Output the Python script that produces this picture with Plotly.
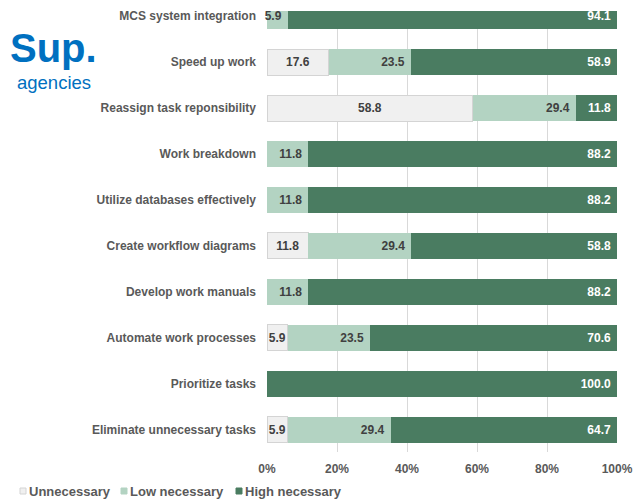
import plotly.graph_objects as go

# Survey items, listed bottom-to-top as they appear on the y axis
categories = [
    "Eliminate unnecessary tasks",
    "Prioritize tasks",
    "Automate work processes",
    "Develop work manuals",
    "Create workflow diagrams",
    "Utilize databases effectively",
    "Work breakdown",
    "Reassign task reponsibility",
    "Speed up work",
    "MCS system integration",
]
unnecessary = [5.9, 0, 5.9, 0, 11.8, 0, 0, 58.8, 17.6, 0]
low_necessary = [29.4, 0, 23.5, 11.8, 29.4, 11.8, 11.8, 29.4, 23.5, 5.9]
high_necessary = [64.7, 100.0, 70.6, 88.2, 58.8, 88.2, 88.2, 11.8, 58.9, 94.1]

series_names = ["Unnecessary", "Low necessary", "High necessary"]
x_tick_values = [0, 20, 40, 60, 80, 100]
x_tick_labels = ["0%", "20%", "40%", "60%", "80%", "100%"]

W, H = 633, 499
M_L, M_R, M_T, M_B = 267, 16, 11, 47
PLOT_W = W - M_L - M_R
PLOT_H = H - M_T - M_B

FONT = "Liberation Sans, Arial, sans-serif"
GREY_TEXT = "#595959"
DARK_TEXT = "#404040"
BLUE = "#0070C0"
colors = ["#F0F0F0", "#B3D3C2", "#4A7C61"]
edge_colors = ["#D4D4D4", "#B3D3C2", "#4A7C61"]
edge_widths = [1, 0, 0]
label_colors = [DARK_TEXT, DARK_TEXT, "#FFFFFF"]
anchors = ["middle", "end", "end"]
clip_text = [True, False, True]


def px_x(px):
    return (px - M_L) / PLOT_W


def px_y(py):
    return (H - M_B - py) / PLOT_H


def labels(values, pad):
    return [f"{v:.1f}{pad}" if v > 0 else "" for v in values]


fig = go.Figure()
for i, (name, vals) in enumerate(zip(series_names, [unnecessary, low_necessary, high_necessary])):
    fig.add_trace(go.Bar(
        y=categories,
        x=vals,
        name=name,
        orientation="h",
        marker=dict(color=colors[i], line=dict(color=edge_colors[i], width=edge_widths[i])),
        text=labels(vals, "" if anchors[i] == "middle" else "\u00a0"),
        textposition="inside",
        insidetextanchor=anchors[i],
        textangle=0,
        textfont=dict(family=FONT, size=12, color=label_colors[i], weight="bold"),
        cliponaxis=clip_text[i],
        showlegend=False,
    ))

# Legend: small swatches with labels along the bottom-left
legend_items = [(20, 28), (121, 129), (236, 244)]
shapes = []
annotations = []
for i, (sx, tx) in enumerate(legend_items):
    shapes.append(dict(
        type="rect", xref="paper", yref="paper",
        x0=px_x(sx), x1=px_x(sx + 6), y0=px_y(494), y1=px_y(488),
        fillcolor=colors[i], line=dict(color=edge_colors[i] if i == 0 else colors[i], width=1),
        layer="above",
    ))
    annotations.append(dict(
        text=series_names[i], xref="paper", yref="paper",
        x=px_x(tx), y=px_y(491), xanchor="left", yanchor="middle",
        showarrow=False, borderpad=0,
        font=dict(family=FONT, size=13, color=GREY_TEXT, weight="bold"),
    ))

# White band above the plotting area
shapes.append(dict(
    type="rect", xref="paper", yref="paper",
    x0=-1, x1=1.2, y0=1, y1=1 + 20 / PLOT_H,
    fillcolor="white", line=dict(width=0), layer="above",
))

# Heading
annotations.append(dict(
    text="Sup.", xref="paper", yref="paper",
    x=px_x(9), y=px_y(48), xanchor="left", yanchor="middle",
    showarrow=False, borderpad=0,
    font=dict(family=FONT, size=40, color=BLUE, weight="bold"),
))
annotations.append(dict(
    text="agencies", xref="paper", yref="paper",
    x=px_x(16), y=px_y(82), xanchor="left", yanchor="middle",
    showarrow=False, borderpad=0,
    font=dict(family=FONT, size=18.5, color=BLUE),
))

fig.update_layout(
    width=W, height=H,
    margin=dict(l=M_L, r=M_R, t=M_T, b=M_B, pad=0, autoexpand=False),
    barmode="stack",
    bargap=0.435,
    paper_bgcolor="white",
    plot_bgcolor="white",
    uniformtext=dict(minsize=12, mode="show"),
    shapes=shapes,
    annotations=annotations,
    xaxis=dict(
        range=[0, 100],
        tickmode="array",
        tickvals=x_tick_values,
        ticktext=x_tick_labels,
        showgrid=True,
        gridcolor="#D9D9D9",
        gridwidth=1,
        zeroline=False,
        showline=False,
        ticks="",
        ticklabelstandoff=8,
        automargin=False,
        tickfont=dict(family=FONT, size=12, color=GREY_TEXT, weight="bold"),
        fixedrange=True,
    ),
    yaxis=dict(
        type="category",
        categoryorder="array",
        categoryarray=categories,
        range=[-0.48, 9.11],
        showgrid=False,
        zeroline=False,
        showline=False,
        ticks="",
        ticklabelstandoff=10,
        automargin=False,
        tickfont=dict(family=FONT, size=12, color=GREY_TEXT, weight="bold"),
        fixedrange=True,
    ),
)

fig.write_html("out.html")
